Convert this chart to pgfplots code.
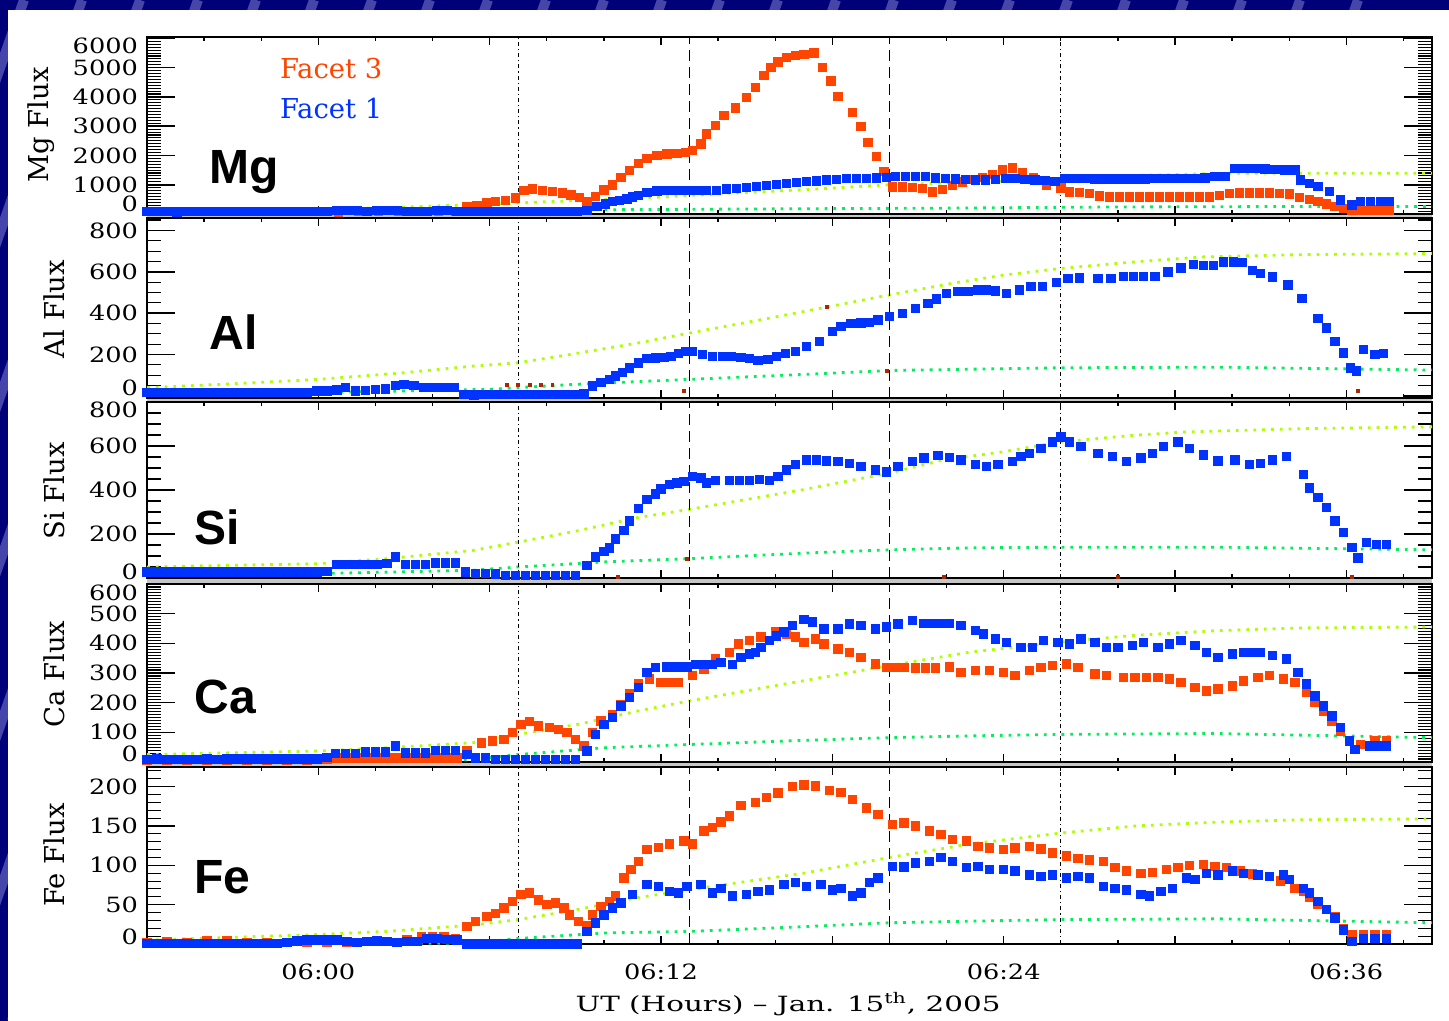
\documentclass[border=0pt]{standalone}
\usepackage{fontspec}
\usepackage{pgfplots}
\pgfplotsset{compat=1.18}
\newfontfamily\idl[FakeStretch=1.22]{DejaVu Serif}
\newfontfamily\idlw[FakeStretch=1.4]{DejaVu Serif}
\newfontfamily\dser{DejaVu Serif}
\newfontfamily\lsans{Liberation Sans}
\newcommand\tickfont{\idl\fontsize{10.5}{12}\selectfont}
\newcommand\lo[2]{\raisebox{#1}[\height][\depth]{#2}}

\definecolor{fred}{RGB}{255,69,0}
\definecolor{fblue}{RGB}{0,51,255}
\definecolor{dred}{RGB}{170,40,0}
\definecolor{ygreen}{RGB}{175,255,0}
\definecolor{sgreen}{RGB}{0,240,90}
\definecolor{navybg}{RGB}{0,0,120}
\definecolor{navylt}{RGB}{70,70,170}

\pgfplotsset{
  panel/.style={
    scale only axis, width=642.5pt, anchor=south west,
    xmin=-6, xmax=39, clip=false,
    axis line style={line width=0.6pt},
    xtick=\empty, ytick style={draw=none},
    yticklabel style={font=\tickfont, xshift=-1pt},
    scaled y ticks=false,
  },
  f3/.style={only marks, mark=square*, mark size=2.1pt, color=fred},
  f1/.style={only marks, mark=square*, mark size=2.1pt, color=fblue},
  f3s/.style={only marks, mark=square*, mark size=0.7pt, color=dred},
  yg/.style={ygreen, line width=1.4pt, dash pattern=on 1.4pt off 3pt},
  sg/.style={sgreen, line width=1.4pt, dash pattern=on 1.4pt off 3pt},
}
\tikzset{elem/.style={anchor=base west, font=\lsans\bfseries\fontsize{24}{24}\selectfont}}
% time ticks (every 6 min long, every 2 min short) and the four event lines
\newcommand\vlines{%
  \pgfplotsinvokeforeach{0.13333,0.26667,0.4,0.53333,0.66667,0.8,0.93333}{%
    \draw[black, line width=0.8pt] (rel axis cs:##1,0) -- (rel axis cs:##1,0.045)
      (rel axis cs:##1,1) -- (rel axis cs:##1,0.955);}
  \pgfplotsinvokeforeach{0.04444,0.08889,0.17778,0.22222,0.31111,0.35556,0.44444,
      0.48889,0.57778,0.62222,0.71111,0.75556,0.84444,0.88889,0.97778}{%
    \draw[black, line width=0.7pt] (rel axis cs:##1,0) -- (rel axis cs:##1,0.0226)
      (rel axis cs:##1,1) -- (rel axis cs:##1,0.9774);}
  \draw[line width=0.6pt, dash pattern=on 2pt off 1.5pt on 0.6pt off 1.5pt]
    (rel axis cs:0.288889,0) -- (rel axis cs:0.288889,1);
  \draw[line width=0.6pt, dash pattern=on 5.5pt off 3pt]
    (rel axis cs:0.422222,0) -- (rel axis cs:0.422222,1);
  \draw[line width=0.6pt, dash pattern=on 5.5pt off 3pt]
    (rel axis cs:0.577778,0) -- (rel axis cs:0.577778,1);
  \draw[line width=0.6pt, dash pattern=on 2pt off 1.5pt on 0.6pt off 1.5pt]
    (rel axis cs:0.711111,0) -- (rel axis cs:0.711111,1);
}
% flux ticks on both sides: #1 long ticks (14pt), #2 short ticks (7pt)
\newcommand\yticks[2]{%
  \pgfplotsinvokeforeach{#1}{%
    \draw[black, line width=0.8pt] (axis cs:-6,##1) -- (axis cs:-5.02,##1)
      (axis cs:39,##1) -- (axis cs:38.02,##1);}
  \pgfplotsinvokeforeach{#2}{%
    \draw[black, line width=0.55pt] (axis cs:-6,##1) -- (axis cs:-5.51,##1)
      (axis cs:39,##1) -- (axis cs:38.51,##1);}
}

\begin{document}
\begin{tikzpicture}
% slide background
\fill[navybg] (0,0) rectangle (724.5pt,510.5pt);
\begin{scope}
  \clip (0,0) rectangle (4pt,510.5pt) (0,505.5pt) rectangle (724.5pt,510.5pt);
  \foreach \s in {-400,-371,...,520}
    \draw[navylt, line width=5pt] (\s pt,0) -- (\s pt+180pt,510.5pt);
\end{scope}
\fill[white] (4pt,0) rectangle (724.5pt,505.5pt);
% grey bands between panels
\fill[gray!45] (73.5pt,401.5pt) rectangle (716pt,403.5pt);
\fill[gray!45] (73.5pt,309.5pt) rectangle (716pt,311.5pt);
\fill[gray!45] (73.5pt,218.5pt) rectangle (716pt,221.5pt);
\fill[gray!45] (73.5pt,127pt) rectangle (716pt,129.5pt);

% ---------------- Mg ----------------
\begin{axis}[panel, at={(73.5pt,403.5pt)}, height=88.5pt,
  ymin=0, ymax=6050, ytick={0,1000,...,6000},
  yticklabels={\lo{5pt}{0},1000,2000,3000,4000,5000,\lo{-3.6pt}{6000}}]
\yticks{1000,2000,3000,4000,5000,6000}{100,200,...,6000}
\addplot[f3] coordinates {
(-6,80)(-5.3,80)(-4.6,80)(-3.9,80)(-3.2,80)(-2.5,80)(-1.8,80)(-1.1,80)(-0.4,80)
(0.3,80)(0.7,70)(1.4,80)(2.1,80)(2.8,80)(3.5,80)(4.2,80)(4.8,90)
(5.2,240)(5.55,300)(5.9,375)(6.2,440)(6.55,470)(6.9,550)(7.2,800)(7.5,860)
(7.85,800)(8.2,780)(8.55,720)(8.85,650)(9.15,560)(9.4,430)(9.7,610)(10.0,820)
(10.3,1000)(10.6,1260)(10.9,1490)(11.2,1720)(11.5,1890)(11.85,2000)(12.2,2050)
(12.55,2080)(12.85,2100)(13.1,2170)(13.4,2400)(13.6,2740)(13.9,3020)(14.2,3360)
(14.6,3620)(15.0,3990)(15.3,4330)(15.6,4730)(15.85,5010)(16.1,5200)(16.4,5350)
(16.7,5420)(17.0,5460)(17.35,5500)(17.65,5020)(17.95,4545)(18.2,4010)(18.7,3465)
(19.0,2990)(19.25,2440)(19.55,1960)(19.8,1450)(20.1,930)(20.45,920)(20.8,900)
(21.15,880)(21.5,760)(21.85,850)(22.2,980)(22.55,1100)(22.9,1180)(23.25,1260)
(23.6,1350)(23.95,1500)(24.3,1570)(24.65,1400)(25.05,1235)(25.5,1000)(26.0,890)
(26.3,760)(26.65,730)(27.0,700)(27.35,620)(27.7,590)(28.05,590)(28.4,590)
(28.75,590)(29.1,590)(29.45,590)(29.8,590)(30.15,590)(30.5,590)(30.85,590)
(31.2,590)(31.55,640)(31.9,700)(32.25,720)(32.6,720)(32.95,720)(33.3,720)
(33.65,710)(34.0,690)(34.35,560)(34.7,500)(35.0,420)(35.3,340)(35.6,260)
(35.9,200)(36.2,140)(36.55,130)(36.9,140)(37.2,140)(37.5,140)
};
\addplot[f1] coordinates {
(-6.0,80)(-5.65,80)(-5.3,80)(-4.95,75)(-4.6,80)(-4.25,80)(-3.9,80)(-3.55,85)
(-3.2,80)(-2.85,80)(-2.5,80)(-2.15,85)(-1.8,80)(-1.45,80)(-1.1,80)(-0.75,85)
(-0.4,80)(-0.05,80)(0.3,90)(0.65,130)(1.0,130)(1.35,120)(1.7,90)(2.05,130)
(2.4,130)(2.75,120)(3.1,90)(3.45,80)(3.8,90)(4.15,130)(4.5,130)(4.85,90)
(5.2,80)(5.55,80)(5.9,90)(6.25,95)(6.6,90)(6.95,85)(7.3,80)(7.65,80)(8.0,80)
(8.35,80)(8.7,80)(9.05,85)(9.4,120)(9.75,255)(10.05,340)(10.3,425)(10.55,470)
(10.8,520)(11.0,580)(11.2,630)(11.5,735)(11.85,790)(12.2,800)(12.55,800)
(12.9,800)(13.25,800)(13.6,805)(13.95,810)(14.3,860)(14.65,880)(15.0,910)
(15.35,950)(15.7,975)(16.05,1020)(16.4,1055)(16.75,1080)(17.1,1110)(17.45,1135)
(17.8,1165)(18.15,1190)(18.5,1220)(18.85,1225)(19.2,1225)(19.55,1230)(19.9,1250)
(20.2,1280)(20.55,1280)(20.9,1280)(21.25,1280)(21.6,1230)(21.95,1225)(22.3,1200)
(22.65,1175)(23.0,1170)(23.35,1170)(23.7,1175)(24.05,1225)(24.4,1225)(24.75,1180)
(25.1,1170)(25.45,1150)(25.8,1110)(26.15,1225)(26.5,1225)(26.85,1225)(27.2,1200)
(27.55,1200)(27.9,1200)(28.25,1200)(28.6,1200)(28.95,1200)(29.3,1210)(29.65,1225)
(30.0,1225)(30.35,1225)(30.7,1225)(31.05,1240)(31.4,1280)(31.75,1280)(32.1,1565)
(32.45,1565)(32.8,1560)(33.15,1540)(33.5,1520)(33.85,1510)(34.2,1510)(34.4,1170)
(34.7,1050)(35.0,940)(35.4,770)(35.8,485)(36.2,315)(36.5,425)(36.85,425)
(37.2,425)(37.5,425)
};
\addplot[yg] coordinates {(-6,40)(-3,100)(0,160)(3,240)(6,330)(8,420)(10,490)(12,580)
(14,690)(17,830)(20,1000)(23.6,1110)(26,1200)(28.6,1315)(32,1395)(39,1395)};
\addplot[sg] coordinates {(-6,60)(0,90)(6,120)(10,145)(16,175)(22,200)(28,240)(34,255)(39,255)};
\vlines
\node[elem] at (rel axis cs:0.0435,0.175) {Mg};
\node[anchor=base west, font=\dser\fontsize{13.7}{14}\selectfont, text=fred]
  at (rel axis cs:0.098,0.768) {Facet 3};
\node[anchor=base west, font=\dser\fontsize{13.7}{14}\selectfont, text=fblue]
  at (rel axis cs:0.098,0.542) {Facet 1};
\end{axis}

% ---------------- Al ----------------
\begin{axis}[panel, at={(73.5pt,311.5pt)}, height=90pt,
  ymin=-10, ymax=860, ytick={0,200,...,800},
  yticklabels={\lo{4pt}{0},200,400,600,800}]
\yticks{0,200,400,600,800}{50,100,...,850}
\addplot[f3s] coordinates {(6.6,53)(7.0,53)(7.4,53)(7.8,53)(8.2,53)(12.8,25)(17.8,432)(19.9,120)(36.4,25)};
\addplot[f1] coordinates {
(-6.0,16)(-5.65,16)(-5.3,16)(-4.95,16)(-4.6,16)(-4.25,18)(-3.9,16)(-3.55,16)
(-3.2,16)(-2.85,16)(-2.5,16)(-2.15,18)(-1.8,16)(-1.45,16)(-1.1,16)(-0.75,16)
(-0.4,18)(-0.05,24)(0.3,24)(0.65,30)(0.95,40)(1.3,24)(1.65,28)(2.0,32)(2.35,34)
(2.7,50)(3.0,55)(3.35,50)(3.7,40)(4.05,40)(4.4,40)(4.75,40)(5.1,8)(5.45,5)
(5.8,8)(6.15,8)(6.5,8)(6.85,8)(7.2,8)(7.55,8)(7.9,8)(8.25,8)(8.6,8)(8.95,8)
(9.3,10)(9.6,48)(9.9,64)(10.2,80)(10.4,96)(10.65,115)(10.9,136)(11.2,160)
(11.5,180)(11.8,184)(12.1,186)(12.35,192)(12.6,205)(12.85,216)(13.1,214)
(13.45,200)(13.8,192)(14.15,190)(14.45,192)(14.8,185)(15.1,180)(15.4,171)
(15.75,176)(16.05,190)(16.35,205)(16.7,216)(17.1,240)(17.55,264)(18.0,312)
(18.3,336)(18.65,350)(19.0,352)(19.3,355)(19.6,368)(20.0,384)(20.45,400)
(20.9,424)(21.35,448)(21.65,469)(22.0,496)(22.4,504)(22.75,505)(23.1,512)
(23.4,512)(23.7,507)(24.1,496)(24.55,512)(24.95,528)(25.35,528)(25.85,549)
(26.25,568)(26.65,570)(27.3,568)(27.75,568)(28.2,579)(28.55,579)(28.9,579)
(29.3,579)(29.75,600)(30.2,619)(30.65,635)(31.0,632)(31.35,632)(31.7,648)
(32.05,648)(32.35,645)(32.7,608)(33.0,592)(33.4,576)(33.95,536)(34.45,472)
(35.0,376)(35.3,328)(35.6,264)(35.9,208)(36.15,136)(36.35,120)(36.6,224)
(37.0,200)(37.3,205)
};
\addplot[yg] coordinates {(-6,40)(-3.4,56)(0,80)(3,112)(5.4,144)(7,160)(8.8,200)(11.2,256)
(13,304)(15.5,368)(17.9,432)(20,488)(22.2,544)(24,584)(26,616)(28.6,648)(31,672)(34.5,683)(39,688)};
\addplot[sg] coordinates {(-6,16)(0,16)(6,32)(9,56)(13,80)(17,104)(20,123)(26,136)(31.5,139)(39,125)};
\vlines
\node[elem] at (rel axis cs:0.0435,0.267) {Al};
\end{axis}

% ---------------- Si ----------------
\begin{axis}[panel, at={(73.5pt,221.5pt)}, height=88pt,
  ymin=0, ymax=800, ytick={0,200,...,800},
  yticklabels={\lo{3.2pt}{0},200,400,600,\lo{-4pt}{800}}]
\yticks{200,400,600}{50,100,...,750}
\addplot[f3s] coordinates {(10.5,6)(12.9,85)(21.9,6)(28,6)(36.2,6)};
\addplot[f1] coordinates {
(-6.0,28)(-5.65,28)(-5.3,28)(-4.95,28)(-4.6,28)(-4.25,28)(-3.9,28)(-3.55,28)
(-3.2,28)(-2.85,28)(-2.5,28)(-2.15,28)(-1.8,28)(-1.45,28)(-1.1,28)(-0.75,28)
(-0.4,28)(-0.05,28)(0.3,30)(0.65,62)(1.0,62)(1.35,62)(1.7,62)(2.05,62)(2.4,65)
(2.7,95)(3.05,62)(3.4,62)(3.75,62)(4.1,68)(4.45,68)(4.8,68)(5.15,28)(5.5,20)
(5.85,20)(6.2,18)(6.55,13)(6.9,13)(7.25,13)(7.6,13)(7.95,13)(8.3,13)(8.65,13)
(9.0,13)(9.4,58)(9.7,95)(10.0,120)(10.2,137)(10.4,178)(10.7,215)(10.9,260)
(11.2,315)(11.5,357)(11.8,383)(12.0,405)(12.3,425)(12.55,432)(12.8,440)(13.1,462)
(13.4,455)(13.6,432)(13.9,443)(14.4,443)(14.75,443)(15.1,443)(15.45,448)
(15.8,443)(16.1,462)(16.4,492)(16.7,515)(17.1,537)(17.45,537)(17.8,532)
(18.2,530)(18.6,522)(19.0,507)(19.5,492)(19.9,482)(20.3,507)(20.8,530)
(21.2,545)(21.7,556)(22.1,548)(22.5,537)(23.0,515)(23.4,507)(23.8,515)
(24.3,530)(24.6,552)(24.9,567)(25.3,589)(25.7,619)(26.0,642)(26.3,619)
(26.7,597)(27.3,567)(27.8,552)(28.3,530)(28.8,545)(29.2,567)(29.6,597)
(30.1,619)(30.5,589)(31.0,559)(31.5,533)(32.1,537)(32.6,515)(33.0,522)
(33.4,537)(33.9,552)(34.5,470)(34.7,410)(35.0,365)(35.3,320)(35.6,260)
(35.9,208)(36.2,140)(36.4,92)(36.7,162)(37.05,152)(37.4,152)
};
\addplot[yg] coordinates {(-6,50)(-3.4,57)(0,65)(2.4,88)(5.4,125)(7,163)(9.1,215)(11.2,275)
(13,312)(17,402)(20,477)(21.9,537)(24,574)(26,619)(28.6,649)(30.4,664)(34.5,679)(39,687)};
\addplot[sg] coordinates {(-6,20)(0,20)(5.4,35)(7,50)(10,73)(13,88)(17,113)(20,128)(22.8,137)(26,140)(31.5,140)(39,128)};
\vlines
\node[elem] at (rel axis cs:0.0315,0.1875) {Si};
\end{axis}

% ---------------- Ca ----------------
\begin{axis}[panel, at={(73.5pt,129.5pt)}, height=89pt,
  ymin=0, ymax=600, ytick={0,100,...,600},
  yticklabels={\lo{4pt}{0},100,200,300,400,500,\lo{-4.2pt}{600}}]
\yticks{100,200,300,400,500}{10,20,...,590}
\addplot[f3] coordinates {
(-6,5)(-5.3,5)(-4.6,5)(-3.9,5)(-3.2,5)(-2.5,5)(-1.8,5)(-1.1,5)(-0.4,5)(0.3,8)
(0.65,14)(1.0,14)(1.35,14)(1.7,14)(2.05,14)(2.4,14)(2.75,14)(3.1,14)(3.45,14)
(3.8,14)(4.15,14)(4.5,14)(4.85,14)(5.2,37)(5.7,65)(6.1,71)(6.5,76)(6.8,99)
(7.1,127)(7.4,136)(7.7,121)(8.1,116)(8.4,110)(8.7,99)(9.0,76)(9.3,54)(9.6,99)
(9.9,138)(10.3,161)(10.6,195)(10.9,229)(11.2,263)(11.6,280)(12.0,268)(12.3,268)
(12.6,268)(13.1,291)(13.5,314)(13.9,347)(14.4,370)(14.7,398)(15.1,410)(15.5,421)
(16.0,438)(16.4,432)(16.7,421)(17.0,404)(17.4,415)(17.7,398)(18.2,381)(18.6,370)
(19.0,353)(19.5,330)(19.9,319)(20.2,319)(20.5,319)(20.9,317)(21.25,317)(21.6,317)
(22.1,321)(22.5,302)(23.0,308)(23.5,308)(24.0,302)(24.4,291)(24.9,308)(25.3,319)
(25.7,325)(26.2,330)(26.6,319)(27.2,297)(27.6,291)(28.2,285)(28.6,285)(29.0,285)
(29.4,285)(29.8,280)(30.2,268)(30.7,251)(31.1,240)(31.5,246)(32.0,257)(32.4,274)
(32.9,285)(33.3,291)(33.8,280)(34.2,268)(34.6,234)(34.9,201)(35.2,172)(35.5,138)
(35.8,104)(36.1,71)(36.5,59)(37.0,71)(37.4,71)
};
\addplot[f1] coordinates {
(-6.0,8)(-5.65,10)(-5.3,8)(-4.95,8)(-4.6,8)(-4.25,8)(-3.9,10)(-3.55,8)(-3.2,11)
(-2.85,11)(-2.5,11)(-2.15,11)(-1.8,11)(-1.45,11)(-1.1,11)(-0.75,11)(-0.4,11)
(-0.05,11)(0.3,15)(0.6,28)(0.95,28)(1.3,28)(1.65,34)(2.0,34)(2.35,34)(2.7,54)
(3.05,31)(3.4,31)(3.75,31)(4.1,39)(4.45,39)(4.8,39)(5.2,25)(5.5,14)(5.85,14)
(6.2,8)(6.55,8)(6.9,8)(7.25,8)(7.6,8)(7.95,8)(8.3,8)(8.65,8)(9.0,8)(9.4,37)
(9.7,93)(10.0,127)(10.3,150)(10.6,189)(10.9,218)(11.2,251)(11.5,302)(11.8,319)
(12.2,321)(12.55,321)(12.9,321)(13.2,328)(13.5,328)(13.8,328)(14.1,336)(14.5,328)
(14.8,353)(15.1,365)(15.3,370)(15.5,387)(15.8,409)(16.05,425)(16.3,438)(16.6,460)
(17.0,480)(17.3,472)(17.7,449)(18.2,449)(18.6,466)(19.0,460)(19.5,449)(19.9,455)
(20.3,466)(20.8,477)(21.2,468)(21.5,468)(21.8,468)(22.1,468)(22.5,460)(23.0,443)
(23.3,432)(23.7,415)(24.1,404)(24.6,387)(25.0,387)(25.4,410)(25.9,404)(26.3,398)
(26.7,415)(27.2,404)(27.6,387)(28.0,387)(28.5,393)(28.9,404)(29.4,387)(29.8,398)
(30.2,410)(30.7,393)(31.1,370)(31.5,353)(32.0,364)(32.4,370)(32.7,370)(33.0,370)
(33.4,359)(33.9,347)(34.3,302)(34.6,263)(34.9,223)(35.2,189)(35.5,155)(35.8,116)
(36.1,71)(36.3,42)(36.8,54)(37.1,54)(37.4,54)
};
\addplot[yg] coordinates {(-6,25)(0,37)(2.4,48)(5.4,65)(7,93)(9.1,127)(11.2,172)(13,206)
(17,274)(20,325)(22.8,370)(26,404)(28.6,427)(31.5,443)(34.5,452)(39,455)};
\addplot[sg] coordinates {(-6,8)(5.4,8)(7,25)(10,48)(13,59)(17,73)(20,82)(22.8,88)(26,93)(31.5,96)(39,82)};
\vlines
\node[elem] at (rel axis cs:0.0315,0.275) {Ca};
\end{axis}

% ---------------- Fe ----------------
\begin{axis}[panel, at={(73.5pt,38.5pt)}, height=88.5pt,
  ymin=0, ymax=225, ytick={0,50,...,200},
  yticklabels={\lo{3.5pt}{0},50,100,150,200}]
\yticks{50,100,150,200}{10,20,...,220}
\addplot[f3] coordinates {
(-6,2)(-5.3,3)(-4.6,2)(-3.9,4)(-3.2,4)(-2.5,2)(-1.8,2)(-1.1,2)(-0.4,2)(0.3,2)
(1.0,2)(1.7,3)(2.4,3)(3.1,5)(3.6,10)(4.0,10)(4.4,9)(4.8,7)(5.2,22)(5.5,29)
(5.9,35)(6.2,39)(6.5,46)(6.8,54)(7.1,63)(7.4,65)(7.7,56)(8.0,50)(8.3,52)(8.6,46)
(8.8,37)(9.1,29)(9.4,24)(9.6,37)(9.9,48)(10.2,54)(10.4,61)(10.7,84)(10.95,95)
(11.2,105)(11.5,120)(11.9,123)(12.3,127)(12.8,131)(13.1,127)(13.5,144)(13.8,148)
(14.1,155)(14.4,163)(14.8,176)(15.3,180)(15.7,186)(16.1,192)(16.6,200)(17.0,202)
(17.4,201)(17.9,195)(18.3,193)(18.7,184)(19.2,173)(19.6,165)(20.1,152)(20.5,154)
(20.9,150)(21.4,144)(21.8,139)(22.2,133)(22.7,131)(23.1,124)(23.5,122)(24.0,120)
(24.4,122)(24.9,124)(25.3,121)(25.7,116)(26.2,112)(26.6,109)(27.0,107)(27.5,105)
(27.9,97)(28.3,93)(28.8,90)(29.2,91)(29.7,95)(30.1,97)(30.5,100)(31.0,101)
(31.4,99)(31.8,97)(32.3,93)(32.7,89)(33.3,86)(33.7,80)(34.2,71)(34.5,67)
(34.7,59)(35.0,50)(35.3,44)(35.6,35)(35.9,20)(36.2,12)(36.6,12)(37.0,12)(37.4,12)
};
\addplot[f1] coordinates {
(-6,1)(-5.65,1)(-5.3,1)(-4.95,1)(-4.6,1)(-4.25,1)(-3.9,1)(-3.55,1)(-3.2,1)
(-2.85,1)(-2.5,1)(-2.15,1)(-1.8,1)(-1.45,1)(-1.1,2)(-0.75,4)(-0.4,5)(-0.05,5)
(0.3,5)(0.65,5)(1.0,3)(1.35,2)(1.7,3)(2.05,4)(2.4,3)(2.75,2)(3.1,3)(3.45,3)
(3.8,7)(4.15,7)(4.5,6)(4.85,5)(5.2,0)(5.55,0)(5.9,0)(6.25,0)(6.6,0)(6.95,0)
(7.3,0)(7.65,0)(8.0,0)(8.35,0)(8.7,0)(9.05,0)(9.4,16)(9.7,27)(10.0,37)(10.3,46)
(10.6,52)(11.0,63)(11.5,76)(11.9,73)(12.3,67)(12.6,65)(12.9,73)(13.4,76)(13.8,65)
(14.1,71)(14.5,61)(15.0,63)(15.4,67)(15.8,69)(16.3,76)(16.7,78)(17.1,73)(17.6,76)
(18.0,69)(18.3,71)(18.7,61)(19.0,65)(19.3,78)(19.6,84)(20.1,99)(20.5,98)(20.9,103)
(21.4,105)(21.8,110)(22.2,105)(22.7,97)(23.1,99)(23.5,95)(24.0,95)(24.4,93)
(24.9,88)(25.3,86)(25.7,88)(26.2,84)(26.6,86)(27.0,84)(27.5,73)(27.9,71)(28.3,69)
(28.8,63)(29.1,61)(29.5,67)(29.9,71)(30.4,84)(30.7,82)(31.1,90)(31.5,88)(32.0,93)
(32.4,90)(32.9,88)(33.3,86)(33.8,88)(34.0,82)(34.5,71)(34.7,65)(35.0,54)(35.3,44)
(35.6,33)(35.9,18)(36.2,3)(36.6,7)(37.0,7)(37.4,7)
};
\addplot[yg] coordinates {(-6,5)(0,12)(2.4,16)(5.4,24)(7,31)(9.1,44)(11.2,59)(13,69)(17,90)
(20,110)(22.8,127)(26,141)(28.6,150)(31.5,155)(34.5,158)(39,159)};
\addplot[sg] coordinates {(-6,1)(5.4,1)(7,7)(10,14)(13,16)(17,22)(20,27)(22.8,29)(26,31)(31.5,32)(39,27)};
\vlines
\node[elem] at (rel axis cs:0.0315,0.288) {Fe};
\begin{scope}[every node/.style={anchor=base, font=\tickfont, yshift=-17.75pt}]
\node at (rel axis cs:0.13333,0) {06:00};
\node at (rel axis cs:0.4,0) {06:12};
\node at (rel axis cs:0.66667,0) {06:24};
\node at (rel axis cs:0.93333,0) {06:36};
\end{scope}
\end{axis}

% axis titles
\begin{scope}[every node/.style={rotate=90, font=\dser\fontsize{13.7}{14}\selectfont}]
\node at (20.5pt,448pt) {Mg Flux};
\node at (27pt,356pt) {Al Flux};
\node at (27pt,265pt) {Si Flux};
\node at (27pt,173.5pt) {Ca Flux};
\node at (27pt,83pt) {Fe Flux};
\end{scope}
\node[anchor=base, font=\idlw\fontsize{10.5}{12}\selectfont] at (394pt,4.8pt)
  {UT (Hours) – Jan. 15\textsuperscript{th}, 2005};
\pgfresetboundingbox
\useasboundingbox (0,0) rectangle (724.5pt,510.5pt);
\end{tikzpicture}
\end{document}
